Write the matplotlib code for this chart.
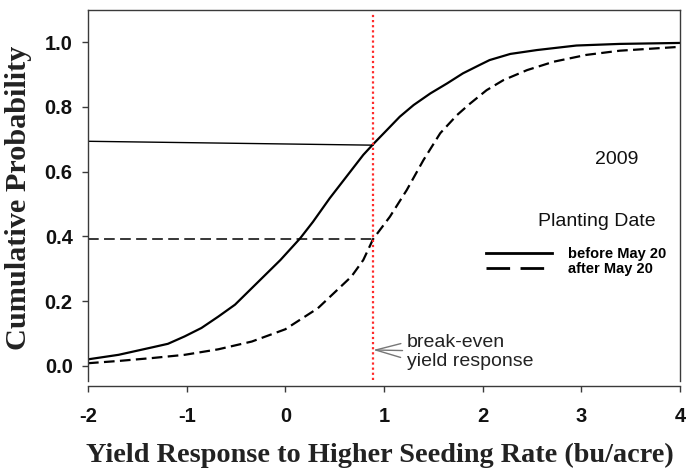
import matplotlib
matplotlib.use("Agg")
import matplotlib.pyplot as plt
from matplotlib.lines import Line2D

# cumulative probability curves
x_before = [-2.0, -1.69, -1.35, -1.19, -1.02, -0.85, -0.68, -0.51, -0.34, -0.17, -0.05, 0.15,
            0.28, 0.45, 0.62, 0.79, 0.89, 1.03, 1.16, 1.30, 1.47, 1.64, 1.80, 1.97, 2.07,
            2.28, 2.55, 2.95, 3.39, 4.0]
p_before = [0.020, 0.034, 0.057, 0.068, 0.091, 0.117, 0.152, 0.189, 0.240, 0.291, 0.327, 0.394,
            0.445, 0.518, 0.585, 0.652, 0.685, 0.729, 0.770, 0.806, 0.842, 0.873, 0.904, 0.930, 0.945,
            0.964, 0.976, 0.990, 0.995, 0.998]

x_after = [-2.0, -1.69, -1.35, -1.02, -0.68, -0.34, 0.0, 0.33, 0.67, 0.79, 0.89, 1.06, 1.23,
           1.40, 1.57, 1.74, 1.87, 2.04, 2.21, 2.45, 2.72, 3.05, 3.39, 4.0]
p_after = [0.008, 0.015, 0.024, 0.034, 0.051, 0.075, 0.113, 0.178, 0.276, 0.327, 0.392, 0.461, 0.543,
           0.636, 0.719, 0.775, 0.810, 0.852, 0.883, 0.914, 0.940, 0.961, 0.974, 0.986]

break_even = 0.89
guide_before_x = [-2.0, break_even]
guide_before_y = [0.694, 0.682]
guide_after_x = [-2.0, break_even]
guide_after_y = [0.392, 0.392]

x_ticks = [-2, -1, 0, 1, 2, 3, 4]
y_ticks = [0.0, 0.2, 0.4, 0.6, 0.8, 1.0]
legend_labels = ["before May 20", "after May 20"]

sans = "Liberation Sans"
serif = "Liberation Serif"
axis_col = "#3a3a3a"

fig = plt.figure(figsize=(6.86, 4.73), dpi=100)
ax = fig.add_axes([88 / 686, 1 - 386 / 473, 592 / 686, 376 / 473])

ax.plot(x_before, p_before, color="black", lw=1.6, solid_joinstyle="round")
ax.plot(x_after, p_after, color="black", lw=1.6, linestyle=(0, (4.8, 2.4)))
ax.plot(guide_before_x, guide_before_y, color="black", lw=1.0)
ax.plot(guide_after_x, guide_after_y, color="black", lw=1.1, linestyle=(0, (7, 3.5)))

ax.vlines(break_even, -0.045, 1.088, color="#ff2a2a", lw=1.6, linestyle=(0, (1, 1.3)))

ax.set_xlim(-2, 4)
ax.set_ylim(-0.0624, 1.0998)
ax.set_xticks(x_ticks)
ax.set_yticks(y_ticks)
ax.set_xticklabels([str(t) for t in x_ticks])
ax.set_yticklabels([f"{t:.1f}" for t in y_ticks])

for side in ["left", "right", "top", "bottom"]:
    ax.spines[side].set_color(axis_col)
    ax.spines[side].set_linewidth(1.0)
ax.spines["left"].set_bounds(-0.048, 1.0998)
ax.spines["right"].set_bounds(-0.048, 1.0998)

ax.tick_params(axis="y", direction="out", length=4.5, width=1.0, color=axis_col, pad=6.5)
ax.tick_params(axis="x", direction="out", length=4.3, width=1.0, color=axis_col, pad=10.5)
for lab in ax.get_xticklabels() + ax.get_yticklabels():
    lab.set_fontfamily(sans)
    lab.set_fontweight("bold")
    lab.set_fontsize(14.5)
    lab.set_color("#111111")

ax.set_xlabel("Yield Response to Higher Seeding Rate (bu/acre)", fontfamily=serif,
              fontweight="bold", fontsize=20.3, color="#222222")
ax.set_ylabel("Cumulative Probability", fontfamily=serif, fontweight="bold",
              fontsize=21.8, color="#222222")
ax.xaxis.set_label_coords(0.493, -0.152)
ax.yaxis.set_label_coords(-0.0946, 0.5)

ax.text(3.36, 0.637, "2009", fontfamily=sans, fontsize=14, ha="center", va="center", color="#111111")
ax.text(3.16, 0.445, "Planting Date", fontfamily=sans, fontsize=14, ha="center", va="center", color="#111111")

handles = [
    Line2D([], [], color="black", lw=2.0),
    Line2D([], [], color="black", lw=2.0, linestyle=(0, (8.5, 3.75))),
]
leg = ax.legend(handles, legend_labels, loc="center left", bbox_to_anchor=(0.672, 0.331),
                frameon=False, borderpad=0, borderaxespad=0, handlelength=4.53,
                handletextpad=1.1, labelspacing=0.1,
                prop={"family": sans, "weight": "bold", "size": 10.5})

ax.annotate("break-even\nyield response", xy=(break_even, 0.049), xytext=(1.23, 0.043),
            fontfamily=sans, fontsize=14, ha="left", va="center", linespacing=1.1,
            color="#222222",
            arrowprops=dict(arrowstyle="->,head_length=0.9,head_width=0.25",
                            mutation_scale=20, color="#777777", lw=1.0,
                            shrinkA=1, shrinkB=0))

fig.savefig("out.png", dpi=100)
